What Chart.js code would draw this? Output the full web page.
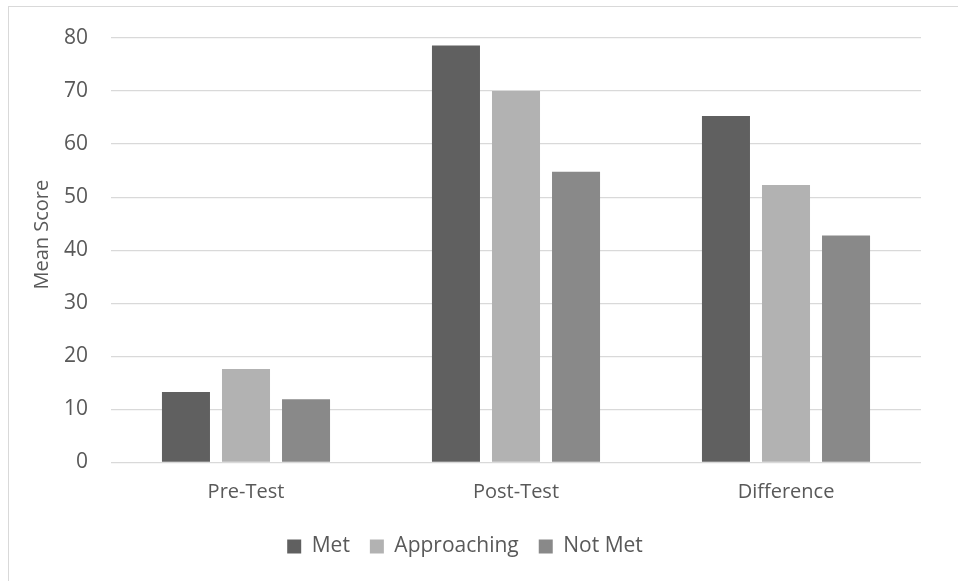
<!DOCTYPE html>
<html>
<head>
<meta charset="utf-8">
<script src="https://cdn.jsdelivr.net/npm/chart.js@4"></script>
<style>
  html, body { margin: 0; padding: 0; background: #fff; overflow: hidden; }
  #frame {
    position: absolute; left: 8px; top: 6px;
    width: 968px; height: 574px;
    border-left: 1px solid #d9d9d9; border-top: 1px solid #d9d9d9;
  }
</style>
</head>
<body>
<div id="frame"><canvas id="myChart" width="968" height="574"></canvas></div>
<script>
const labels = ['Pre-Test', 'Post-Test', 'Difference'];
const met = [13.3, 78.6, 65.3];
const approaching = [17.6, 70.0, 52.3];
const notMet = [11.9, 54.8, 42.8];

const txt = '#595959';
const font = { family: '"Open Sans", sans-serif', size: 21 };

const data = {
    labels: labels,
    datasets: [
        { label: 'Met', data: met, backgroundColor: '#606060' },
        { label: 'Approaching', data: approaching, backgroundColor: '#b2b2b2' },
        { label: 'Not Met', data: notMet, backgroundColor: '#898989' }
    ]
};

const config = {
    type: 'bar',
    data: data,
    options: {
        responsive: false,
        animation: false,
        datasets: { bar: { categoryPercentage: 0.667, barPercentage: 0.8 } },
        layout: { padding: { left: 0, right: 56, top: 31, bottom: 14 } },
        plugins: {
            tooltip: { enabled: false },
            legend: {
                position: 'bottom',
                labels: { color: txt, font: font, boxWidth: 14, boxHeight: 14, padding: 20 }
            }
        },
        scales: {
            x: {
                grid: { display: false },
                border: { display: false },
                ticks: { color: txt, font: { family: font.family, size: 20 }, padding: 10 },
                afterFit: function (s) { s.height = 53.5; }
            },
            y: {
                min: 0,
                max: 80,
                // tick marks are invisible, they only push the labels away from the plot
                grid: { color: '#d9d9d9', lineWidth: 1.3, drawTicks: true, tickLength: 23, tickColor: 'rgba(0,0,0,0)' },
                border: { display: false },
                ticks: { stepSize: 10, color: txt, font: font, padding: 0 },
                title: {
                    display: true,
                    text: '      Mean Score',
                    color: txt,
                    font: { family: font.family, size: 20 },
                    padding: { top: 21, bottom: 0 }
                },
                afterFit: function (s) { s.width = 102; }
            }
        }
    }
};

const myChart = new Chart(document.getElementById('myChart'), config);
</script>
</body>
</html>
